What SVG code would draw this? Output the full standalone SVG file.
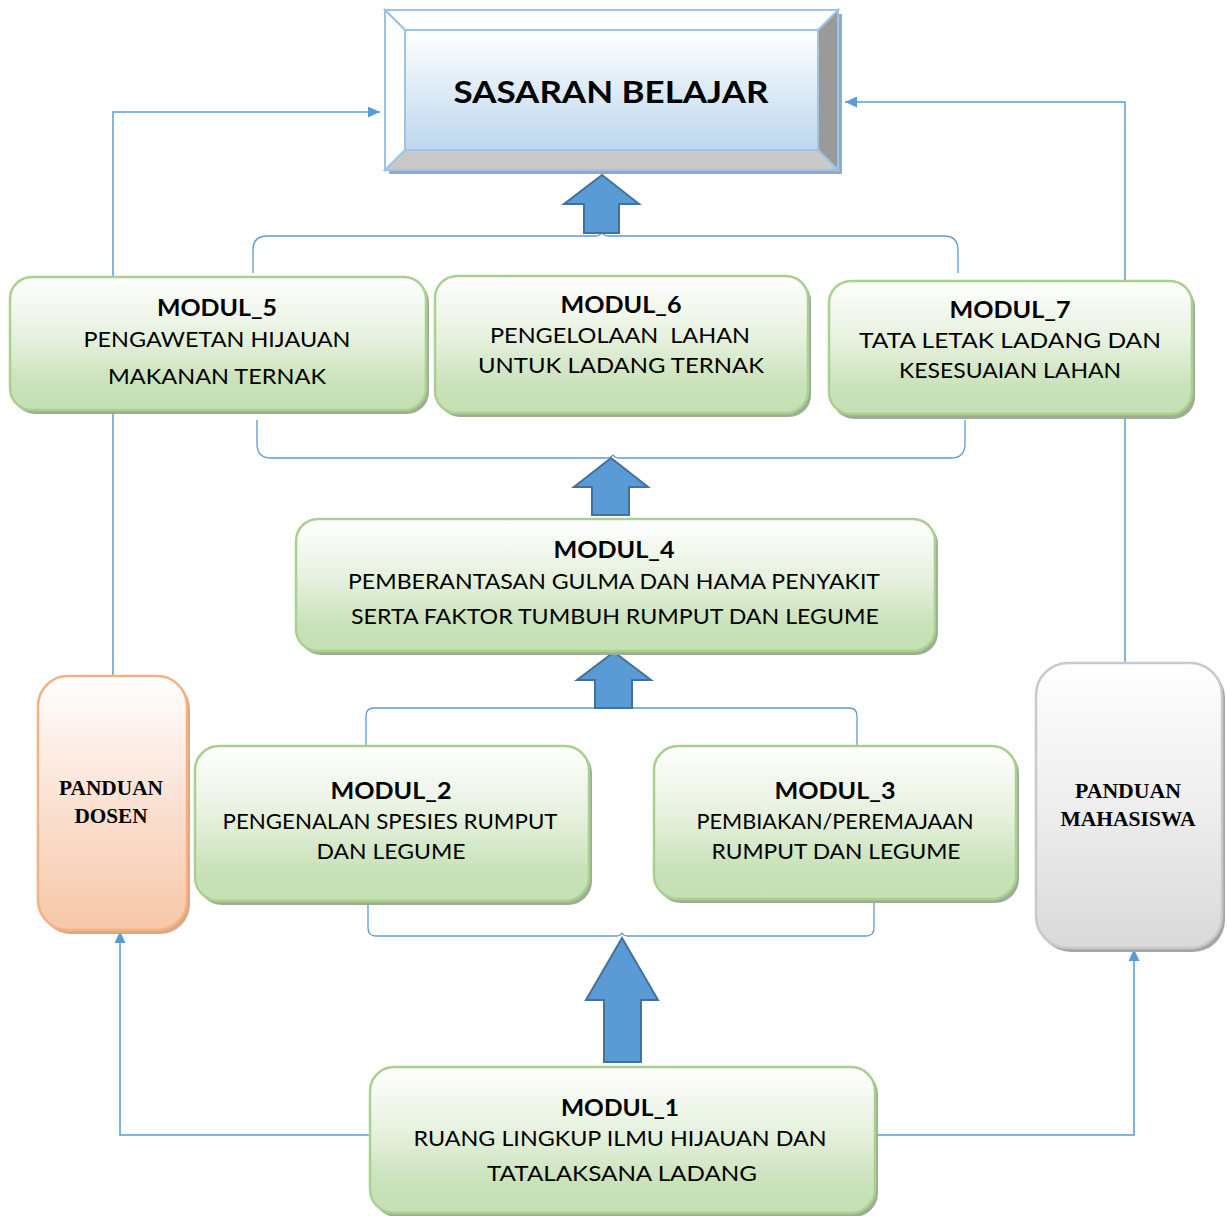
<svg xmlns="http://www.w3.org/2000/svg" width="1227" height="1216" viewBox="0 0 1227 1216">
<defs>
<linearGradient id="gGreen" x1="0" y1="0" x2="0" y2="1">
<stop offset="0" stop-color="#ffffff"/>
<stop offset="0.45" stop-color="#e6f1de"/>
<stop offset="0.8" stop-color="#c9e2b9"/>
<stop offset="1" stop-color="#c5e0b4"/>
</linearGradient>
<linearGradient id="gOrange" x1="0" y1="0" x2="0" y2="1">
<stop offset="0" stop-color="#ffffff"/>
<stop offset="0.5" stop-color="#fbe1d2"/>
<stop offset="1" stop-color="#f6c8a8"/>
</linearGradient>
<linearGradient id="gGray" x1="0" y1="0" x2="0" y2="1">
<stop offset="0" stop-color="#ffffff"/>
<stop offset="0.5" stop-color="#eeeeee"/>
<stop offset="1" stop-color="#d9d9d9"/>
</linearGradient>
<linearGradient id="gBlue" x1="0" y1="0" x2="0" y2="1">
<stop offset="0" stop-color="#ffffff"/>
<stop offset="1" stop-color="#bdd7ee"/>
</linearGradient>
<marker id="ah" viewBox="0 0 10 10" refX="10" refY="5" markerWidth="12" markerHeight="11" orient="auto" markerUnits="userSpaceOnUse" preserveAspectRatio="none">
<path d="M0,0 L10,5 L0,10 z" fill="#5b9bd5"/>
</marker>
</defs>
<style>
.conn{fill:none;stroke:#5b9bd5;stroke-width:1.5}
.brace{fill:none;stroke:#5b9bd5;stroke-width:1.3}
.block{fill:#5b9bd5;stroke:#41719c;stroke-width:2;stroke-linejoin:miter}
.gbox{fill:url(#gGreen);stroke:#a9d18e;stroke-width:2.5}
.gsh{fill:#9eae96}
.t{font-family:Lato,"Open Sans","Liberation Sans",sans-serif;font-size:21px;fill:#000;text-anchor:middle}
.tb{font-family:Lato,"Open Sans","Liberation Sans",sans-serif;font-size:22px;font-weight:bold;fill:#000;text-anchor:middle}
.ts{font-family:"Liberation Serif","Times New Roman",serif;font-size:20px;font-weight:bold;fill:#000;text-anchor:middle}
</style>
<rect width="1227" height="1216" fill="#ffffff"/>

<g id="connectors">
<path class="conn" d="M113,676 L113,112 L380,112" marker-end="url(#ah)"/>
<path class="conn" d="M1125,663 L1125,102 L845,102" marker-end="url(#ah)"/>
<path class="conn" d="M370,1135 L120,1135 L120,931" marker-end="url(#ah)"/>
<path class="conn" d="M875,1135 L1134,1135 L1134,949" marker-end="url(#ah)"/>
<path class="brace" d="M253,273 L253,250 Q253,236 267,236 L596,236 Q600,236 602,232 Q604,236 608,236 L944,236 Q958,236 958,250 L958,273"/>
<path class="brace" d="M257,420 L257,444 Q257,458 271,458 L607,458 Q611,458 613,455 Q615,458 619,458 L951,458 Q965,458 965,444 L965,420"/>
<path class="brace" d="M366,745 L366,716 Q366,708 374,708 L609,708 Q612,708 614,705 Q616,708 619,708 L849,708 Q857,708 857,716 L857,745"/>
<path class="brace" d="M368,898 L368,928 Q368,936 376,936 L617,936 Q620,936 622,933 Q624,936 627,936 L866,936 Q874,936 874,928 L874,898"/>
<polygon class="block" points="602,175 639,204 619,204 619,233 584,233 584,204 564,204"/>
<polygon class="block" points="611,458 648,487 629,487 629,515 592,515 592,487 574,487"/>
<polygon class="block" points="614,652 651,680 632,680 632,708 595,708 595,680 577,680"/>
<polygon class="block" points="622,938 658,1000 641,1000 641,1062 604,1062 604,1000 586,1000"/>
</g>

<g id="sasaran">
<rect x="389" y="14" width="453" height="160" fill="#93a9c4"/>
<rect x="385" y="10" width="453" height="160" fill="#ffffff" stroke="#9dc3e6" stroke-width="2"/>
<polygon points="818,30 838,10 838,170 818,150" fill="#9a9a9a" stroke="#9dc3e6" stroke-width="2"/>
<polygon points="405,150 818,150 838,170 385,170" fill="#c9c9c9" stroke="#9dc3e6" stroke-width="2"/>
<polygon points="385,10 838,10 818,30 405,30" fill="#ffffff" stroke="#9dc3e6" stroke-width="2"/>
<polygon points="385,10 405,30 405,150 385,170" fill="#ffffff" stroke="#9dc3e6" stroke-width="2"/>
<rect x="405" y="30" width="413" height="120" fill="url(#gBlue)" stroke="#9dc3e6" stroke-width="2"/>
<text x="611" y="103" font-family="Lato,'Open Sans','Liberation Sans',sans-serif" font-size="31" font-weight="bold" text-anchor="middle" textLength="315" lengthAdjust="spacingAndGlyphs">SASARAN BELAJAR</text>
</g>

<g id="modul5">
<rect class="gsh" x="13" y="280" width="416" height="134" rx="22"/>
<rect class="gbox" x="10" y="277" width="416" height="133" rx="22"/>
<text class="tb" x="217" y="316" textLength="120" lengthAdjust="spacingAndGlyphs">MODUL_5</text>
<text class="t" x="217" y="347" textLength="267" lengthAdjust="spacingAndGlyphs">PENGAWETAN HIJAUAN</text>
<text class="t" x="217" y="384" textLength="218" lengthAdjust="spacingAndGlyphs">MAKANAN TERNAK</text>
</g>

<g id="modul6">
<rect class="gsh" x="438" y="279" width="373" height="138" rx="22"/>
<rect class="gbox" x="435" y="276" width="373" height="137" rx="22"/>
<text class="tb" x="621" y="313" textLength="121" lengthAdjust="spacingAndGlyphs">MODUL_6</text>
<text class="t" x="620" y="343" textLength="260" lengthAdjust="spacingAndGlyphs" xml:space="preserve">PENGELOLAAN  LAHAN</text>
<text class="t" x="621" y="373" textLength="286" lengthAdjust="spacingAndGlyphs">UNTUK LADANG TERNAK</text>
</g>

<g id="modul7">
<rect class="gsh" x="832" y="285" width="363" height="134" rx="22"/>
<rect class="gbox" x="829" y="281" width="363" height="133" rx="22"/>
<text class="tb" x="1010" y="318" textLength="121" lengthAdjust="spacingAndGlyphs">MODUL_7</text>
<text class="t" x="1010" y="348" textLength="302" lengthAdjust="spacingAndGlyphs">TATA LETAK LADANG DAN</text>
<text class="t" x="1010" y="378" textLength="222" lengthAdjust="spacingAndGlyphs">KESESUAIAN LAHAN</text>
</g>

<g id="modul4">
<rect class="gsh" x="299" y="522" width="639" height="133" rx="22"/>
<rect class="gbox" x="296" y="519" width="639" height="132" rx="22"/>
<text class="tb" x="614" y="558" textLength="121" lengthAdjust="spacingAndGlyphs">MODUL_4</text>
<text class="t" x="614" y="589" textLength="532" lengthAdjust="spacingAndGlyphs">PEMBERANTASAN GULMA DAN HAMA PENYAKIT</text>
<text class="t" x="615" y="624" textLength="528" lengthAdjust="spacingAndGlyphs">SERTA FAKTOR TUMBUH RUMPUT DAN LEGUME</text>
</g>

<g id="panduan-dosen">
<rect x="41" y="679" width="149" height="255" rx="30" fill="#d9a888"/>
<rect x="38" y="676" width="149" height="254" rx="30" fill="url(#gOrange)" stroke="#f4b183" stroke-width="2.5"/>
<text class="ts" x="111" y="795" textLength="104" lengthAdjust="spacingAndGlyphs">PANDUAN</text>
<text class="ts" x="111" y="823" textLength="73" lengthAdjust="spacingAndGlyphs">DOSEN</text>
</g>

<g id="modul2">
<rect class="gsh" x="198" y="749" width="394" height="156" rx="24"/>
<rect class="gbox" x="195" y="746" width="394" height="155" rx="24"/>
<text class="tb" x="391" y="799" textLength="121" lengthAdjust="spacingAndGlyphs">MODUL_2</text>
<text class="t" x="390" y="829" textLength="335" lengthAdjust="spacingAndGlyphs">PENGENALAN SPESIES RUMPUT</text>
<text class="t" x="391" y="859" textLength="149" lengthAdjust="spacingAndGlyphs">DAN LEGUME</text>
</g>

<g id="modul3">
<rect class="gsh" x="657" y="749" width="362" height="154" rx="24"/>
<rect class="gbox" x="654" y="746" width="362" height="153" rx="24"/>
<text class="tb" x="835" y="799" textLength="121" lengthAdjust="spacingAndGlyphs">MODUL_3</text>
<text class="t" x="835" y="829" textLength="277" lengthAdjust="spacingAndGlyphs">PEMBIAKAN/PEREMAJAAN</text>
<text class="t" x="836" y="859" textLength="249" lengthAdjust="spacingAndGlyphs">RUMPUT DAN LEGUME</text>
</g>

<g id="panduan-mahasiswa">
<rect x="1039" y="666" width="186" height="286" rx="32" fill="#a6a6a6"/>
<rect x="1036" y="663" width="186" height="285" rx="32" fill="url(#gGray)" stroke="#c9c9c9" stroke-width="2.5"/>
<text class="ts" x="1128" y="798" textLength="106" lengthAdjust="spacingAndGlyphs">PANDUAN</text>
<text class="ts" x="1128" y="826" textLength="135" lengthAdjust="spacingAndGlyphs">MAHASISWA</text>
</g>

<g id="modul1">
<rect class="gsh" x="373" y="1070" width="505" height="147" rx="24"/>
<rect class="gbox" x="370" y="1067" width="505" height="146" rx="24"/>
<text class="tb" x="620" y="1116" textLength="118" lengthAdjust="spacingAndGlyphs">MODUL_1</text>
<text class="t" x="620" y="1146" textLength="413" lengthAdjust="spacingAndGlyphs">RUANG LINGKUP ILMU HIJAUAN DAN</text>
<text class="t" x="622" y="1181" textLength="270" lengthAdjust="spacingAndGlyphs">TATALAKSANA LADANG</text>
</g>
</svg>
